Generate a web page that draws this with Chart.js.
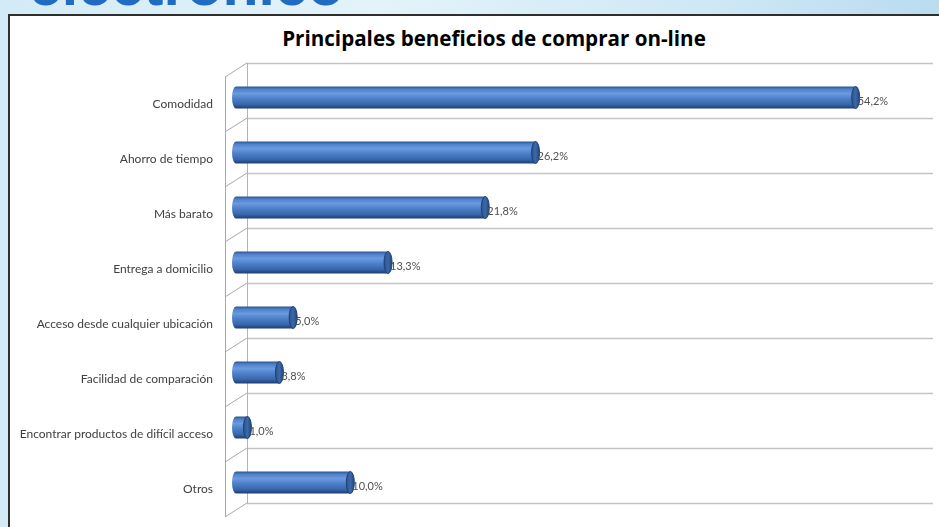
<!DOCTYPE html>
<html>
<head>
<meta charset="utf-8">
<script src="https://cdn.jsdelivr.net/npm/chart.js@4.4.1/dist/chart.umd.min.js"></script>
<style>
  html, body { margin: 0; padding: 0; }
  body {
    width: 939px; height: 527px; overflow: hidden; position: relative;
    background: linear-gradient(90deg, #d3ebf7 0%, #e4f3fa 40%, #cfe8f5 75%, #b9dcef 100%);
  }
  #brand {
    position: absolute; left: 29px; top: -44px;
    font: bold 59px "Liberation Sans", Arial, sans-serif; line-height: 1;
    color: #1f6cc2; letter-spacing: 0;
  }
  #box {
    position: absolute; left: 8px; top: 14px; width: 960px; height: 540px;
    background: #ffffff; border-left: 2px solid #2e2e2e; border-top: 2px solid #2e2e2e;
  }
  #title {
    position: absolute; left: 244px; width: 500px; top: 25px; text-align: center;
    font: bold 20.6px "Open Sans", sans-serif; line-height: 26px; color: #000000;
  }
  #wrap { position: absolute; left: 0; top: 0; width: 939px; height: 527px; }
</style>
</head>
<body>
<div id="brand">electrónico</div>
<div id="box"></div>
<div id="title">Principales beneficios de comprar on-line</div>
<div id="wrap"><canvas id="benefitsChart" width="939" height="527"></canvas></div>
<script>
// Categories and percentages
const categories = [
  "Comodidad",
  "Ahorro de tiempo",
  "Más barato",
  "Entrega a domicilio",
  "Acceso desde cualquier ubicación",
  "Facilidad de comparación",
  "Encontrar productos de difícil acceso",
  "Otros",
];
const percentages = [54.2, 26.2, 21.8, 13.3, 5.0, 3.8, 1.0, 10.0];
const axisMax = 60;

// 3D depth offset (half depth, in px)
const DX = 11;
const DY = 7;

function cylinderGradient(c, top, bottom) {
  const g = c.createLinearGradient(0, top, 0, bottom);
  g.addColorStop(0, "#2a538f");
  g.addColorStop(0.12, "#4f80c9");
  g.addColorStop(0.32, "#6a9ae0");
  g.addColorStop(0.55, "#4d80c9");
  g.addColorStop(0.82, "#3765aa");
  g.addColorStop(1, "#1e3d6e");
  return g;
}

// Back wall + side wall drawn from the category scale boundaries
const wallsPlugin = {
  id: "walls",
  beforeDatasetsDraw(chart) {
    const { ctx, chartArea } = chart;
    const y = chart.scales.y;
    ctx.save();
    // back wall gridlines
    ctx.strokeStyle = "#c4c4c4";
    ctx.lineWidth = 1.5;
    for (let i = 0; i <= categories.length; i++) {
      const py = Math.round(y.getPixelForValue(i - 0.5) - DY) + 0.5;
      ctx.beginPath();
      ctx.moveTo(chartArea.left + DX, py);
      ctx.lineTo(chartArea.right + DX, py);
      ctx.stroke();
    }
    ctx.strokeStyle = "#b4b4b4";
    ctx.lineWidth = 1;
    const t = y.getPixelForValue(-0.5);
    const b = y.getPixelForValue(categories.length - 0.5);
    ctx.beginPath();
    ctx.moveTo(chartArea.left + DX + 0.5, t - DY);
    ctx.lineTo(chartArea.left + DX + 0.5, b - DY);
    ctx.stroke();
    // side wall
    ctx.strokeStyle = "#a8a8a8";
    ctx.beginPath();
    ctx.moveTo(chartArea.left - DX + 0.5, t + DY);
    ctx.lineTo(chartArea.left - DX + 0.5, b + DY);
    ctx.stroke();
    for (let i = 0; i <= categories.length; i++) {
      const py = y.getPixelForValue(i - 0.5);
      ctx.beginPath();
      ctx.moveTo(chartArea.left - DX, py + DY);
      ctx.lineTo(chartArea.left + DX, py - DY);
      ctx.stroke();
    }
    ctx.restore();
  },
};

// Cylinder ends and value labels, placed on the bar elements
const cylinderPlugin = {
  id: "cylinder",
  afterDatasetsDraw(chart) {
    const { ctx } = chart;
    const meta = chart.getDatasetMeta(0);
    ctx.save();
    meta.data.forEach((bar, i) => {
      const h = bar.height / 2;
      const top = bar.y - h;
      const bottom = bar.y + h;
      // left rounded end
      ctx.fillStyle = cylinderGradient(ctx, top, bottom);
      ctx.beginPath();
      ctx.ellipse(bar.base, bar.y, 4, h, 0, Math.PI / 2, Math.PI * 1.5);
      ctx.fill();
      // right cap
      ctx.beginPath();
      ctx.ellipse(bar.x, bar.y, 4, h, 0, 0, Math.PI * 2);
      const g = ctx.createLinearGradient(bar.x - 4, 0, bar.x + 4, 0);
      g.addColorStop(0, "#2b548f");
      g.addColorStop(0.5, "#3a68ab");
      g.addColorStop(1, "#23457a");
      ctx.fillStyle = g;
      ctx.fill();
      ctx.strokeStyle = "#203f70";
      ctx.lineWidth = 1;
      ctx.stroke();
      // value label
      ctx.fillStyle = "#505050";
      ctx.font = "11px Lato, 'Open Sans', sans-serif";
      ctx.textAlign = "left";
      ctx.textBaseline = "middle";
      ctx.fillText(percentages[i].toFixed(1).replace(".", ",") + "%", bar.x + 2, bar.y + 4);
    });
    ctx.restore();
  },
};

const benefitsCtx = document.getElementById("benefitsChart").getContext("2d");
window.benefitsChart = new Chart(benefitsCtx, {
  type: "bar",
  data: {
    labels: categories,
    datasets: [
      {
        data: percentages,
        backgroundColor: function (context) {
          const chart = context.chart;
          const y = chart.scales.y;
          if (!y || context.dataIndex === undefined) return "#4a7cc4";
          const center = y.getPixelForValue(context.dataIndex);
          const half = (y.height / categories.length) * 0.4 / 2;
          if (!isFinite(center) || !isFinite(half) || half <= 0) return "#4a7cc4";
          return cylinderGradient(chart.ctx, center - half, center + half);
        },
        borderWidth: 0,
        barPercentage: 0.4,
        categoryPercentage: 1,
      },
    ],
  },
  options: {
    indexAxis: "y",
    responsive: false,
    animation: false,
    layout: {
      padding: { left: 0, right: 17, top: 70, bottom: 17 },
    },
    scales: {
      x: {
        display: false,
        min: 0,
        max: axisMax,
      },
      y: {
        grid: { display: false },
        border: { display: false },
        afterFit: function (scale) {
          scale.width = 236;
          scale.paddingTop = 0;
          scale.paddingBottom = 0;
        },
        ticks: {
          color: "#404040",
          padding: 15,
          labelOffset: 7,
          font: { size: 12, family: "Lato, 'Open Sans', sans-serif" },
        },
      },
    },
    plugins: {
      legend: { display: false },
      tooltip: { enabled: false },
      title: { display: false },
    },
  },
  plugins: [wallsPlugin, cylinderPlugin],
});
</script>
</body>
</html>
